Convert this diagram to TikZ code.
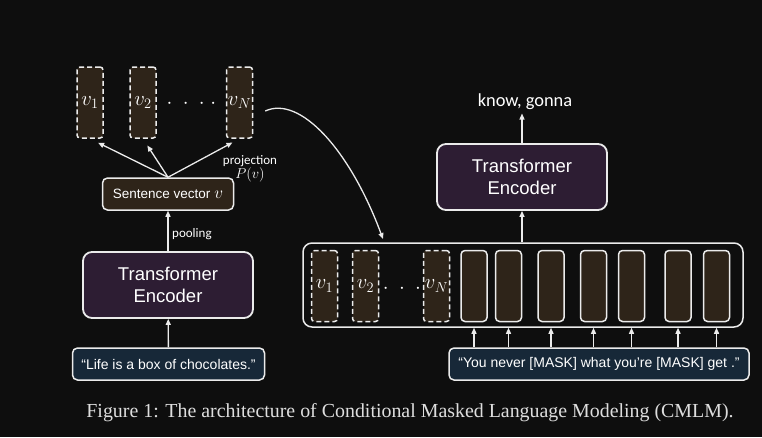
\documentclass[tikz,border=0pt]{standalone}
\usepackage{fontspec}
\setmainfont{Liberation Serif}
\newfontfamily\arialfont{Liberation Sans}
\newfontfamily\labelfont{Carlito}
\usepackage{tikz}
\usetikzlibrary{positioning,arrows.meta}
\definecolor{bgdark}{HTML}{0E0E0E}
\definecolor{vecbrown}{HTML}{2E2419}
\definecolor{encpurple}{HTML}{2D1D33}
\definecolor{inpnavy}{HTML}{172838}
\definecolor{linewhite}{HTML}{EBEBEB}
\definecolor{capgray}{HTML}{DEDEDE}

\begin{document}
\begin{tikzpicture}[x=1pt, y=-1pt,
  vec/.style={draw=linewhite, line width=1.5pt, dash pattern=on 5pt off 3pt, rounded corners=3pt,
              fill=vecbrown, minimum width=26pt, minimum height=71pt, inner sep=0pt, text=white,
              font=\fontsize{22}{22}\selectfont},
  tok/.style={draw=linewhite, line width=1.5pt, rounded corners=4pt, fill=vecbrown,
              minimum width=26pt, minimum height=71pt},
  enc/.style={draw=linewhite, line width=1.8pt, rounded corners=9pt, fill=encpurple, align=center,
              minimum width=170pt, minimum height=66pt, text=white, font=\arialfont\fontsize{18.5}{22}\selectfont},
  inp/.style={draw=linewhite, line width=1.5pt, rounded corners=5pt, fill=inpnavy, minimum height=32pt,
              text=white, font=\arialfont\fontsize{14}{14}\selectfont},
  lbl/.style={text=white, font=\labelfont\fontsize{13}{14}\selectfont, align=center, inner sep=1pt},
  dots/.style={text=white, font=\fontsize{20}{20}\selectfont},
  arr/.style={-{Triangle[length=6pt,width=5pt]}, line width=1.3pt, draw=linewhite}]
\fill[bgdark] (0,0) rectangle (762,437);
\node[vec] (v1) at (90,102.5) {$v_1$};
\node[vec] (v2) at (143,102.5) {$v_2$};
\node[dots] (dl) at (191.5,104) {$\cdot\;\cdot\;\cdot\;\cdot$};
\node[vec] (vN) at (239.5,102.5) {$v_N$};
\node[inp, fill=vecbrown, minimum width=131pt, font=\arialfont\fontsize{13.5}{14}\selectfont] (sv) at (168,194) {Sentence vector {\fontsize{16}{16}\selectfont$v$}};
\node[enc] (teL) at (168,285) {Transformer\\Encoder};
\node[inp, minimum width=192pt] (inL) at (168.5,364) {“Life is a box of chocolates.”};
\draw[arr, shorten >=9pt] (sv.north) -- (v1.south);
\draw[arr, shorten >=8pt] (sv.north) -- (v2.south);
\draw[arr, shorten >=8pt] (sv.north) -- (vN.south);
\node[lbl] (proj) at (250,169) {projection\\{\fontsize{14}{15}\selectfont$P(v)$}};
\draw[arr] (teL) -- (sv);
\node[lbl, anchor=west] (pool) at (171,234) {pooling};
\draw[arr] (inL) -- (teL);
\node[draw=linewhite, line width=1.5pt, rounded corners=9pt, minimum width=440pt, minimum height=84pt] (cont) at (523,285) {};
\node[vec] (w1) at (324.5,286) {$v_1$};
\node[vec] (w2) at (365.5,286) {$v_2$};
\node[dots] (dr) at (402,289) {$\cdot\;\cdot\;\cdot$};
\node[vec] (wN) at (436.5,286) {$v_N$};
\foreach \x [count=\i] in {474,508.5,551,593.5,631.5,678,716.5}
  \node[tok] (t\i) at (\x,286) {};
\node[inp, minimum width=300pt] (inR) at (599,364) {“You never [MASK] what you’re [MASK] get .”};
\foreach \i in {1,...,7}
  \draw[arr] (inR.north -| t\i) -- (t\i |- cont.south);
\node[enc] (teR) at (522,177) {Transformer\\Encoder};
\node[text=white, font=\labelfont\fontsize{18.4}{18}\selectfont] (out) at (525,102) {know, gonna};
\draw[arr] (teR.south |- cont.north) -- (teR.south);
\draw[arr] (teR.north) -- (teR.north |- out.south);
\coordinate (land) at (383,239);
\draw[arr] ([xshift=12pt,yshift=-8.5pt]vN.east) .. controls (300,95) and (350,150) .. (land);
\node[text=capgray, font=\fontsize{19.9}{22}\selectfont] (cap) at (410,413) {Figure 1: The architecture of Conditional Masked Language Modeling (CMLM).};
\end{tikzpicture}
\end{document}
